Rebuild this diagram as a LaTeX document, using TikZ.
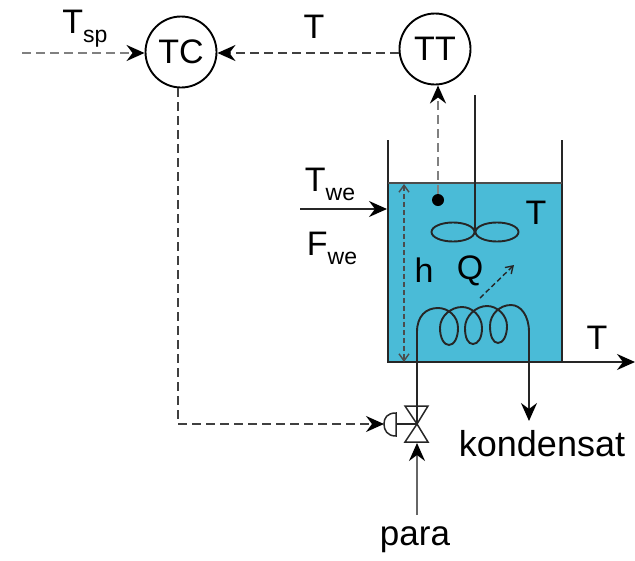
\documentclass[tikz,border=0pt]{standalone}
\usepackage{fontspec}
\setmainfont{Liberation Sans}
\usetikzlibrary{positioning,arrows.meta,calc,shapes.geometric}
\definecolor{water}{RGB}{74,187,215}
\newcommand{\subtxt}[1]{\raisebox{-9pt}{\fontsize{23}{23}\selectfont #1}}

\begin{document}
\begin{tikzpicture}[
  x=1pt, y=-1pt,
  font=\fontsize{34}{38}\selectfont,
  >={Stealth[length=18pt,width=16pt,inset=6pt,black]},
  ctrl/.style={draw, line width=1.9pt, circle, minimum size=71pt, inner sep=0pt},
  lbl/.style={inner sep=0pt},
  wall/.style={line width=1.9pt, black!85},
  pipe/.style={->, line width=1.9pt, black!85},
  sig/.style={->, line width=1.9pt, black!75, dash pattern=on 9pt off 5pt},
  sigl/.style={sig, black!50},
  part/.style={draw, line width=1.9pt, black!85}
]
\useasboundingbox (0,0) rectangle (635,560);

% controllers
\node[ctrl] (tc) at (181,52) {\raisebox{-2pt}{TC}};
\node[ctrl] (tt) at (435,49) {\raisebox{-2pt}{TT}};

% tank
\fill[water] (388,183) rectangle (562,362);
\coordinate (wallLtop) at (388,140);
\coordinate (wallRtop) at (562,140);
\coordinate (wallLbot) at (388,362);
\coordinate (wallRbot) at (562,362);
\coordinate (levelL) at (388,183);
\coordinate (levelR) at (562,183);
\draw[wall] (wallLtop) -- (wallLbot) -- (wallRbot) -- (wallRtop);
\draw[wall, black!70] (levelL) -- (levelR);

% stirrer
\coordinate (shafttop) at (475,95);
\coordinate (hub) at (475,232);
\draw[wall] (shafttop) -- (hub);
\node[part, ellipse, minimum width=43pt, minimum height=19pt, inner sep=0pt] (bladeL) at (453,232) {};
\node[part, ellipse, minimum width=43pt, minimum height=19pt, inner sep=0pt] (bladeR) at (497,232) {};

% sensor
\node[circle, fill=black, minimum size=12pt, inner sep=0pt] (sensor) at (438,200) {};

% coil
\coordinate (coilin) at (417,425);
\coordinate (coilout) at (529,362);
\draw[wall] (coilin) -- (417,332) .. controls (417,316) and (426,308) .. (438,308)
  .. controls (448,308) and (458,316) .. (458,328)
  .. controls (458,338) and (454,345) .. (449,345)
  .. controls (444,345) and (440,338) .. (440,328)
  .. controls (440,316) and (451,307) .. (462,307)
  .. controls (472,307) and (482,316) .. (482,328)
  .. controls (482,338) and (478,344) .. (473,344)
  .. controls (468,344) and (465,338) .. (465,328)
  .. controls (465,316) and (476,306) .. (487,306)
  .. controls (497,306) and (507,315) .. (507,326)
  .. controls (507,336) and (503,343) .. (498,343)
  .. controls (493,343) and (490,336) .. (490,326)
  .. controls (490,314) and (500,305) .. (511,305)
  .. controls (521,305) and (529,316) .. (529,332) -- (coilout);

% valve
\coordinate (vc) at (417,424);
\coordinate (vtl) at (405,406);
\coordinate (vtr) at (428,406);
\coordinate (vbl) at (405,442);
\coordinate (vbr) at (428,442);
\draw[wall, line width=1.5pt] (vc) -- (vtl) -- (vtr) -- cycle;
\draw[wall, line width=1.5pt] (vc) -- (vbl) -- (vbr) -- cycle;
\coordinate (actR) at (396,424);
\coordinate (actT) at (396,413);
\coordinate (actB) at (396,436);
\coordinate (actL) at (384,424);
\draw[wall, line width=1.5pt] (actT) .. controls (387,413) and (384,418) .. (actL)
  .. controls (384,430) and (387,436) .. (actB) -- cycle;
\draw[wall, line width=1.5pt] (actR) -- (vc);

% process lines
\coordinate (wein) at (300,209);
\coordinate (weend) at (387,209);
\coordinate (tout) at (635,362);
\coordinate (konend) at (529,421);
\coordinate (parain) at (417,515);
\coordinate (vbot) at (417,443);
\draw[pipe] (wein) -- (weend);
\draw[pipe] (wallRbot) -- (tout);
\draw[pipe] (coilout) -- (konend);
\draw[pipe, black!60] (parain) -- (vbot);

% signals
\coordinate (spin) at (22,53);
\coordinate (hT) at (404,184);
\coordinate (hB) at (404,362);
\coordinate (qS) at (480,298);
\coordinate (qE) at (514,265);
\coordinate (tcdown) at (178,424);
\draw[sigl] (spin) -- (tc.west |- spin);
\draw[sig] (tt.west |- spin) -- (tc.east |- spin);
\draw[sigl] (sensor) -- (sensor |- tt.south);
\draw[sig] (tc.south -| tcdown) -- (tcdown) -- (actL);
\draw[<->, line width=1.4pt, black!70, dash pattern=on 5pt off 3pt,
  >={Straight Barb[length=7pt,width=10pt]}] (hT) -- (hB);
\draw[->, line width=1.4pt, black!85, dash pattern=on 5pt off 3pt,
  >={Straight Barb[length=7pt,width=9pt]}] (qS) -- (qE);

% labels
\node[lbl] (lsp) at (85,29) {T\subtxt{sp}};
\node[lbl] (lt) at (314,27) {T};
\node[lbl] (ltwe) at (330,184) {T\subtxt{we}};
\node[lbl] (lfwe) at (332,248) {F\subtxt{we}};
\node[lbl] (lh) at (424,270) {h};
\node[lbl] (lq) at (470,271) {Q};
\node[lbl] (ltin) at (536,213) {T};
\node[lbl] (ltout) at (597,338) {T};
\node[lbl, font=\fontsize{36}{40}\selectfont] (lkon) at (542,444) {kondensat};
\node[lbl, font=\fontsize{35}{40}\selectfont] (lpara) at (415,540) {para};

\end{tikzpicture}
\end{document}
